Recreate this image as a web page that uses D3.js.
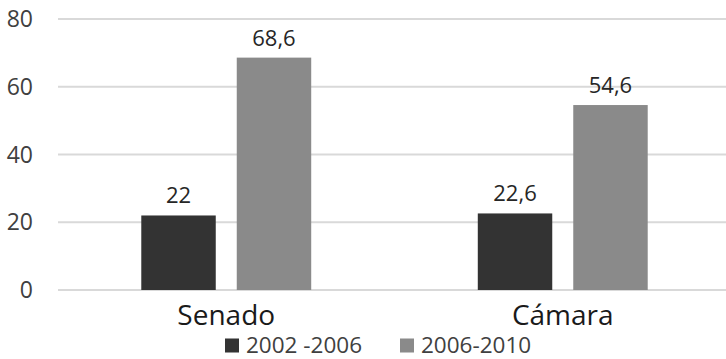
<!DOCTYPE html>
<html>
<head>
<meta charset="utf-8">
<script src="https://cdn.jsdelivr.net/npm/d3@7"></script>
<style>
  body { margin: 0; background: #fff; }
  svg { display: block; font-family: 'Open Sans', sans-serif; }
</style>
</head>
<body>
<svg id="chart"></svg>
<script>
// data
const categories = ['Senado', 'Cámara'];
const seriesNames = ['2002 -2006', '2006-2010'];
const series2002 = [22, 22.6];
const series2006 = [68.6, 54.6];
const yTicks = [0, 20, 40, 60, 80];
const colors = ['#333333', '#8a8a8a'];

const width = 726, height = 359;
const svg = d3.select('#chart')
  .attr('width', width)
  .attr('height', height);

const rows = categories.map((c, i) => ({
  cat: c,
  vals: [series2002[i], series2006[i]]
}));

const x0 = d3.scaleBand()
  .domain(categories)
  .range([58, 731])
  .paddingInner(0.495)
  .paddingOuter(0.2475);

const x1 = d3.scaleBand()
  .domain(seriesNames)
  .range([0, x0.bandwidth()])
  .paddingInner(0.22);

const y = d3.scaleLinear()
  .domain([0, 80])
  .range([290, 19]);

// gridlines
svg.append('g')
  .selectAll('line')
  .data(yTicks)
  .join('line')
    .attr('x1', 58)
    .attr('x2', width)
    .attr('y1', d => y(d))
    .attr('y2', d => y(d))
    .attr('stroke', '#d9d9d9')
    .attr('stroke-width', 2);

// y labels
svg.append('g')
  .selectAll('text')
  .data(yTicks)
  .join('text')
    .attr('x', 33)
    .attr('y', d => y(d))
    .attr('dy', '0.35em')
    .attr('text-anchor', 'end')
    .attr('font-size', 23)
    .attr('fill', '#404040')
    .text(d => d);

// bars
const groups = svg.append('g')
  .selectAll('g')
  .data(rows)
  .join('g')
    .attr('transform', d => `translate(${x0(d.cat)},0)`);

groups.selectAll('rect')
  .data(d => d.vals.map((v, i) => ({ name: seriesNames[i], v, i })))
  .join('rect')
    .attr('x', d => x1(d.name))
    .attr('width', x1.bandwidth())
    .attr('y', d => y(d.v))
    .attr('height', d => y(0) - y(d.v))
    .attr('fill', d => colors[d.i]);

groups.selectAll('text')
  .data(d => d.vals.map((v, i) => ({ name: seriesNames[i], v, i })))
  .join('text')
    .attr('x', d => x1(d.name) + x1.bandwidth() / 2)
    .attr('y', d => y(d.v) - 12)
    .attr('text-anchor', 'middle')
    .attr('font-size', 22)
    .attr('fill', '#262626')
    .text(d => String(d.v).replace('.', ','));

// category labels
svg.append('g')
  .selectAll('text')
  .data(categories)
  .join('text')
    .attr('x', d => x0(d) + x0.bandwidth() / 2)
    .attr('y', 325)
    .attr('text-anchor', 'middle')
    .attr('font-size', 28)
    .attr('fill', '#1a1a1a')
    .text(d => d);

// legend
const legendX = [225, 400];
const legend = svg.append('g')
  .selectAll('g')
  .data(seriesNames)
  .join('g')
    .attr('transform', (d, i) => `translate(${legendX[i]},338.5)`);

legend.append('rect')
  .attr('width', 14)
  .attr('height', 14)
  .attr('fill', (d, i) => colors[i]);

legend.append('text')
  .attr('x', 21)
  .attr('y', 14)
  .attr('font-size', 22.5)
  .attr('fill', '#404040')
  .text(d => d);
</script>
</body>
</html>
